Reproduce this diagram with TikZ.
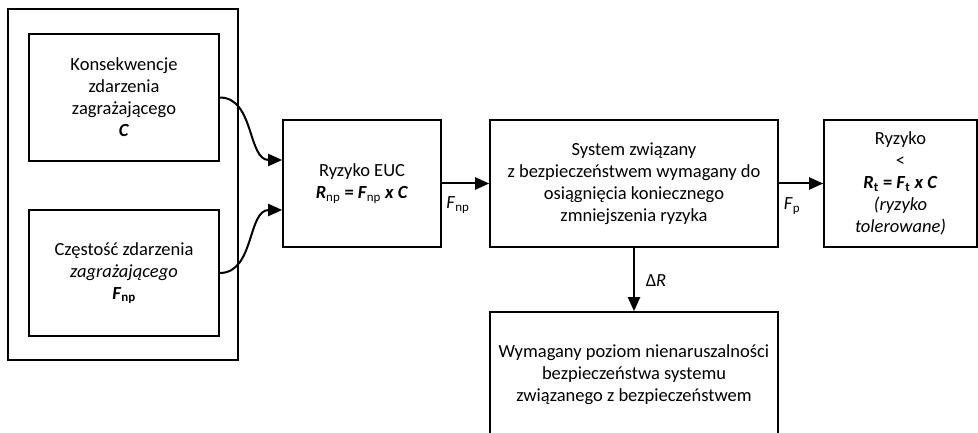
\documentclass[tikz,border=0pt]{standalone}
\usepackage{fontspec}
\setmainfont{Carlito}
\usetikzlibrary{arrows.meta}
\newcommand{\bi}[1]{\textbf{\textit{#1}}}
\newcommand{\sbs}[1]{\textsubscript{#1}}
\begin{document}
\begin{tikzpicture}[x=1pt,y=-1pt,
  every node/.style={font=\fontsize{18.5}{22}\selectfont, align=center, inner sep=0pt},
  box/.style={draw, line width=1.6pt, rectangle},
  conn/.style={line width=2pt, -{Triangle[length=14pt,width=12pt]}},
  lbl/.style={anchor=center}]
  \clip (0,0) rectangle (978,433);
  \fill[white] (0,0) rectangle (978,433);

  % grouping frame around the two input boxes
  \node[box, minimum width=230pt, minimum height=351pt] (frame) at (123,184.5) {};
  \node[box, minimum width=190pt, minimum height=127pt] (cons) at (124,97.5)
    {Konsekwencje\\zdarzenia\\zagrażającego\\\bi{C}};
  \node[box, minimum width=190pt, minimum height=126pt] (freq) at (124,273)
    {Częstość zdarzenia\\\textit{zagrażającego}\\\bi{F}\sbs{\textbf{np}}};

  % risk chain
  \node[box, minimum width=158pt, minimum height=127pt] (euc) at (362,183.5)
    {Ryzyko EUC\\\bi{R}\sbs{np} \textbf{=} \bi{F}\sbs{np} \bi{x C}};
  \node[box, minimum width=288pt, minimum height=127pt] (sys) at (634,183.5)
    {System związany\\z bezpieczeństwem wymagany do\\osiągnięcia koniecznego\\zmniejszenia ryzyka};
  \node[box, minimum width=153pt, minimum height=127pt] (tol) at (900.5,183.5)
    {Ryzyko\\<\\\bi{R}\sbs{\textbf{t}} \textbf{=} \bi{F}\sbs{\textbf{t}} \bi{x C}\\\textit{(ryzyko}\\\textit{tolerowane)}};

  % required integrity level box (continues past the lower edge)
  \node[box, minimum width=288pt, minimum height=160pt] (lvl) at (634,392) {};
  \node (lvltext) at (634,375)
    {Wymagany poziom nienaruszalności\\bezpieczeństwa systemu\\związanego z bezpieczeństwem};

  % connectors
  \draw[conn] (cons.east) to[out=0,in=180] ([yshift=23.5pt]euc.west);
  \draw[conn] (freq.east) to[out=0,in=180] ([yshift=-26.5pt]euc.west);
  \draw[conn] (euc.east) -- (sys.west);
  \draw[conn] (sys.east) -- (tol.west);
  \draw[conn] (sys.south) -- (lvl.north);

  % connector labels
  \node[lbl] (lfnp) at (458,205) {\textit{F}\sbs{np}};
  \node[lbl] (lfp) at (792,206) {\textit{F}\sbs{p}};
  \node[lbl] (ldr) at (656,281) {Δ\textit{R}};
\end{tikzpicture}
\end{document}
